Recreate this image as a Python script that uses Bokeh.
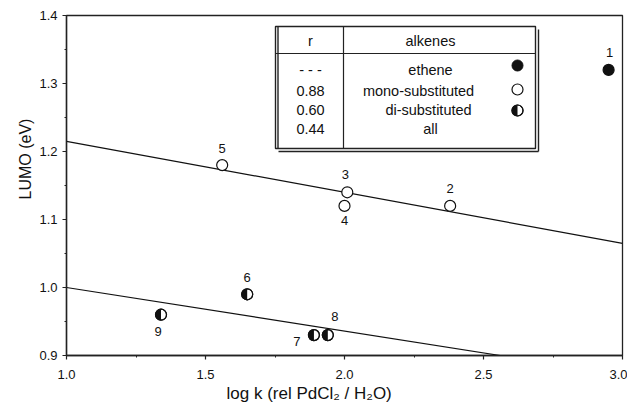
import math
from bokeh.plotting import figure
from bokeh.models import (Range1d, FixedTicker, PrintfTickFormatter, Title,
                          ColumnDataSource, CDSView, GroupFilter)
from bokeh.core.properties import value
from bokeh.embed import file_html
from bokeh.resources import INLINE

# ---------------- data ----------------
point_ids = ["1", "2", "3", "4", "5", "6", "7", "8", "9"]
log_k = [2.95, 2.38, 2.01, 2.00, 1.56, 1.65, 1.89, 1.94, 1.34]
lumo = [1.32, 1.12, 1.14, 1.12, 1.18, 0.99, 0.93, 0.93, 0.96]
alkene_type = ["ethene", "mono", "mono", "mono", "mono", "di", "di", "di", "di"]

fit_mono_x = [1.0, 3.0]
fit_mono_y = [1.215, 1.065]
fit_di_x = [1.0, 2.56]
fit_di_y = [1.0, 0.9]

table_r = ["- - -", "0.88", "0.60", "0.44"]
table_alkenes = ["ethene", "mono-substituted", "di-substituted", "all"]

x_ticks = [1.0, 1.5, 2.0, 2.5, 3.0]
x_minor = [1.25, 1.75, 2.25, 2.75]
y_ticks = [0.9, 1.0, 1.1, 1.2, 1.3, 1.4]
y_minor = [0.95, 1.05, 1.15, 1.25, 1.35]

# ---------------- style / layout ----------------
FONT = "Liberation Sans"
INK = "#111111"
# label pixel offsets (screen px; positive dy = down)
lab_dx = [1, 0, -2, 0, 0, 0, -17, 7, -3]
lab_dy = [-17, -17, -18, 15, -17, -17, 6, -19, 17]

p = figure(width=627, height=408, x_range=Range1d(1.0, 3.0), y_range=Range1d(0.9, 1.4),
           output_backend="svg", toolbar_location=None,
           min_border_left=66, min_border_right=5, min_border_top=15, min_border_bottom=53)
# page-pixel helper ranges for the inset table
p.extra_x_ranges = {"px": Range1d(66, 622)}
p.extra_y_ranges = {"px": Range1d(355, 15)}

p.xgrid.visible = False
p.ygrid.visible = False
p.background_fill_color = "white"
p.border_fill_color = "white"
p.outline_line_color = "#222222"
p.outline_line_width = 1.3

for ax in (p.xaxis[0], p.yaxis[0]):
    ax.axis_line_color = "#222222"
    ax.axis_line_width = 1.4
    ax.major_tick_line_color = "#222222"
    ax.minor_tick_line_color = "#222222"
    ax.major_tick_line_width = 1.2
    ax.minor_tick_line_width = 1.0
    ax.major_tick_in = 0
    ax.major_tick_out = 4
    ax.minor_tick_in = 0
    ax.minor_tick_out = 2
    ax.major_label_text_font = FONT
    ax.major_label_text_font_size = "13px"
    ax.major_label_text_color = INK
    ax.formatter = PrintfTickFormatter(format="%.1f")

p.xaxis[0].ticker = FixedTicker(ticks=x_ticks, minor_ticks=x_minor)
p.yaxis[0].ticker = FixedTicker(ticks=y_ticks, minor_ticks=y_minor)
p.xaxis[0].major_label_standoff = 10
p.yaxis[0].major_label_standoff = 5

# fit lines
p.line(fit_mono_x, fit_mono_y, line_color=INK, line_width=1.2)
p.line(fit_di_x, fit_di_y, line_color=INK, line_width=1.2)

# points
src = ColumnDataSource(dict(x=log_k, y=lumo, t=point_ids, kind=alkene_type,
                            dx=lab_dx, dy=lab_dy))
v_eth = CDSView(filter=GroupFilter(column_name="kind", group="ethene"))
v_mono = CDSView(filter=GroupFilter(column_name="kind", group="mono"))
v_di = CDSView(filter=GroupFilter(column_name="kind", group="di"))

p.scatter("x", "y", source=src, view=v_eth, size=11, fill_color=INK, line_color=INK, line_width=1.2)
p.scatter("x", "y", source=src, view=v_mono, size=11, fill_color="white", line_color=INK, line_width=1.2)
p.scatter("x", "y", source=src, view=v_di, size=11, fill_color="white", line_color=INK, line_width=1.2)
p.wedge("x", "y", source=src, view=v_di, radius=5.5, radius_units="screen",
        start_angle=math.pi / 2, end_angle=3 * math.pi / 2, fill_color=INK, line_color=None)
p.scatter("x", "y", source=src, view=v_di, size=11, fill_color=None, line_color=INK, line_width=1.2)

p.text("x", "y", text="t", source=src, x_offset="dx", y_offset="dy",
       text_font=value(FONT), text_font_size="13px", text_color=INK,
       text_align="center", text_baseline="middle")

# ---------------- inset table (page pixel coords) ----------------
tl, tr, tt, tb = 275, 535, 26, 148
kw = dict(x_range_name="px", y_range_name="px")
p.quad(left=[tl], right=[tr], top=[tt], bottom=[tb], fill_color="white",
       line_color="#222222", line_width=1.4, **kw)
p.segment(x0=[tr + 3, tl + 3, tl + 2.5], y0=[tt + 3, tb + 3, tt], x1=[tr + 3, tr + 3, tl + 2.5],
          y1=[tb + 3, tb + 3, tb], line_color="#222222", line_width=1.4, **kw)
p.segment(x0=[tl, 343], y0=[53, tt], x1=[tr, 343], y1=[53, tb],
          line_color="#222222", line_width=1.2, **kw)

p.text(x=[310, 430], y=[40, 40], text=["r", "alkenes"], text_font=value(FONT),
       text_font_size="14.5px", text_color=INK, text_align="center",
       text_baseline="middle", **kw)
row_y = [69, 90, 109, 128]
row_x = [430, 418, 428, 430]
p.text(x=[310] * 4, y=row_y, text=table_r, text_font=value(FONT),
       text_font_size="14.5px", text_color=INK, text_align="center",
       text_baseline="middle", **kw)
p.text(x=row_x, y=row_y, text=table_alkenes, text_font=value(FONT),
       text_font_size="14.5px", text_color=INK, text_align="center",
       text_baseline="middle", **kw)
mk_y = [65, 89, 110]
p.scatter(x=[517], y=[mk_y[0]], size=11, fill_color=INK, line_color=INK, **kw)
p.scatter(x=[517], y=[mk_y[1]], size=11, fill_color="white", line_color=INK, line_width=1.2, **kw)
p.scatter(x=[517], y=[mk_y[2]], size=11, fill_color="white", line_color=INK, line_width=1.2, **kw)
p.wedge(x=[517], y=[mk_y[2]], radius=5.5, radius_units="screen", start_angle=math.pi / 2,
        end_angle=3 * math.pi / 2, fill_color=INK, line_color=None, **kw)
p.scatter(x=[517], y=[mk_y[2]], size=11, fill_color=None, line_color=INK, line_width=1.2, **kw)

# ---------------- axis titles ----------------
p.add_layout(Title(text="log k (rel PdCl\u2082 /  H\u2082O)", align="left", offset=160,
                   standoff=0, text_font=FONT, text_font_size="17px",
                   text_font_style="normal", text_color=INK), "below")
p.add_layout(Title(text="LUMO (eV)", align="left", offset=156, standoff=6,
                   text_font=FONT, text_font_size="16px",
                   text_font_style="normal", text_color=INK), "left")

open("out.html", "w").write(file_html(p, INLINE))
